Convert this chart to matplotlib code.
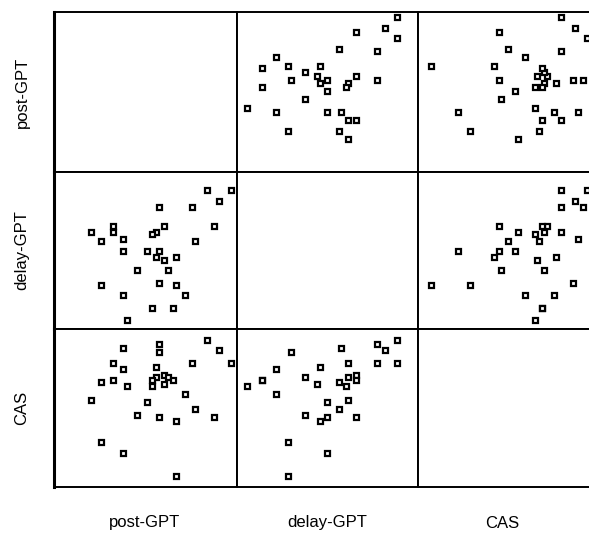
import numpy as np
import matplotlib
matplotlib.use('Agg')
import matplotlib.pyplot as plt

plt.rcParams['font.family'] = ['Liberation Sans', 'DejaVu Sans']

# scores (one row per respondent)
post_gpt = [48, 28, 13, 53, 28, 58, 42, 9, 27, 13, 30, 32, 27, 9, 25, 34,
            4, 30, 15, 25, 39, 0, 23, 43, 19, 28, 51, 35, 4, 13, 35]
delay_gpt = [62, 54, 39, 57, 18, 62, 54, 42, 30, 12, 45, 24, 42, 45, 6, 6,
             38, 29, 0, 41, 12, 42, 33, 38, 24, 33, 45, 30, 17, 33, 17]
cas = [65, 63, 61, 60, 59, 54, 54, 54, 52, 51, 48, 47, 47, 46, 46, 46,
       45, 44, 43, 43, 39, 36, 35, 32, 29, 28, 28, 26, 16, 11, 0]

names = ['post-GPT', 'delay-GPT', 'CAS']
limits = [(-15.5, 60.5), (-4.2, 70.8), (-5.5, 70.2)]

W, H = 589, 535
col_edges = [54, 237, 418, 600]
row_edges = [12, 172, 329, 487]

fig = plt.figure(figsize=(W / 100, H / 100), dpi=100)
data = [post_gpt, delay_gpt, cas]

for i in range(3):
    for j in range(3):
        x0, x1 = col_edges[j], col_edges[j + 1]
        y0, y1 = row_edges[i], row_edges[i + 1]
        ax = fig.add_axes([x0 / W, 1 - y1 / H, (x1 - x0) / W, (y1 - y0) / H])
        if i != j:
            ax.plot(data[j], data[i], linestyle='none', marker='s', markersize=3.6,
                    markerfacecolor='white', markeredgecolor='black',
                    markeredgewidth=1.6)
        ax.set_xlim(*limits[j])
        ax.set_ylim(*limits[i])
        ax.set_xticks([])
        ax.set_yticks([])
        for s in ax.spines.values():
            s.set_linewidth(1.4)
            s.set_color('black')
        if j == 0:
            ax.spines['left'].set_linewidth(2.2)

# variable names along the left and bottom
for i, name in enumerate(names):
    yc = (row_edges[i] + row_edges[i + 1]) / 2
    fig.text(22 / W, 1 - yc / H, name, rotation=90, ha='center', va='center',
             fontsize=12)
label_x = [145, 327, 502]
for j, name in enumerate(names):
    fig.text(label_x[j] / W, 1 - 523 / H, name, ha='center', va='center',
             fontsize=12)

fig.savefig('out.png', dpi=100)
